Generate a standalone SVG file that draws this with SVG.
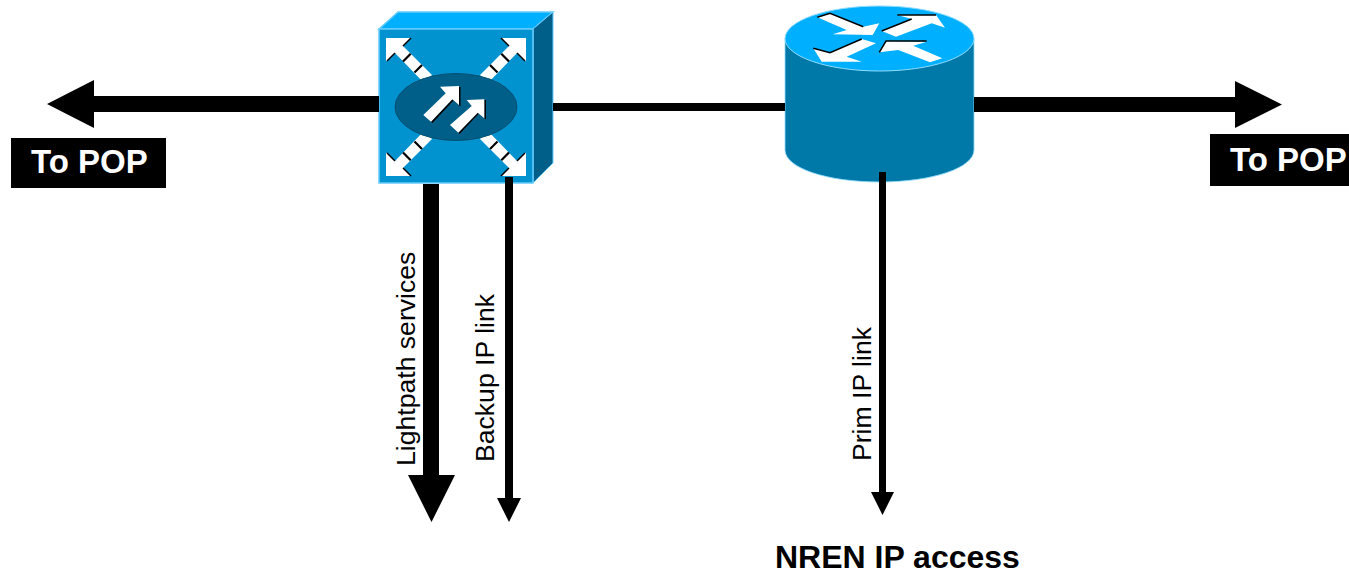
<svg xmlns="http://www.w3.org/2000/svg" width="1349" height="571" viewBox="0 0 1349 571">
<style>
text{font-family:"Liberation Sans",Arial,sans-serif;fill:#000}
.pop{font-size:33px;font-weight:700;fill:#fff}
.v{font-size:26.600px}
.nren{font-size:32px;font-weight:700}
.w{fill:#fff}
.k{fill:#000}
.s{fill:none;stroke:#000;stroke-width:1.500}
.g{fill:none;stroke:#000;stroke-width:2.200}
</style>
<defs>
<g id="head">
<polygon class="w" points="0,0 25,0 17,8 46,37 38,45 9,15 1,23 0,23"/>
<path class="s" d="M1 23L9 15M17 8L25 0"/>
<path class="g" d="M17 23.500L24.700 15.700M28.500 34.500L36 27"/>
</g>
</defs>
<g id="switch">
<polygon points="379,29 398,12 553,12 533,29" fill="#00b0ff" stroke="#66ccff" stroke-width="1.500"/>
<polygon points="533,29 553,12 553,163 533,183" fill="#005f88" stroke="#66ccff" stroke-width="1"/>
<rect x="379" y="29" width="154" height="154" fill="#0093d0" stroke="#66ccff" stroke-width="1.500"/>
<use href="#head" transform="translate(386,38)"/>
<use href="#head" transform="translate(526,38) scale(-1,1)"/>
<use href="#head" transform="translate(386,176) scale(1,-1)"/>
<use href="#head" transform="translate(526,176) scale(-1,-1)"/>
<ellipse cx="456" cy="107" rx="61" ry="33.500" fill="#005f88" stroke="#004f72"/>
<polygon class="k" points="459,87 460.500,87 460.500,106.500 453.500,100.500 432.500,123 424.500,116.500 431,121.700 452.300,99.300 459,105"/>
<polygon class="k" points="484.300,100 486,100 486,119.500 479,113.500 459.500,134 451.500,126.500 458.300,132.700 477.700,112.700 484.300,118.300"/>
<polygon class="w" points="440,86.700 459,86 459,105 452.300,99.300 431,121.700 423.300,115 445.700,93.300"/>
<polygon class="w" points="466.700,100 484.300,99.300 484.300,118.300 477.700,112.700 458.300,132.700 450,125 471.700,106"/>
</g>
<g id="router">
<path d="M785 38.500V150C785 168 827 182 879.500 182S974 168 974 150V38.500Z" fill="#0079a8" stroke="#8fdcff" stroke-width=".8"/>
<ellipse cx="879.500" cy="38.500" rx="94.500" ry="32.500" fill="#00b0ff" stroke="#8fdcff" stroke-width="1"/>
<polygon class="w" points="817.300,17.300 830,13.300 863.300,26.700 879.300,23.300 872.700,35 832.700,34.300 846.700,30"/>
<polygon class="w" points="881.700,31 911.700,19 897.300,15 936,15 945,27.700 931.700,23.300 896,36.700"/>
<polygon class="w" points="813.300,48.300 830,52.700 861.700,39 876,43.300 846.700,56.700 861.700,61.700 821.700,61.700"/>
<polygon class="w" points="879.300,52.300 886,41 926.700,41.700 913.300,45.700 942.300,58.300 930,62.300 898.300,50"/>
<path class="s" d="M817.300 17.300L830 13.300 863.300 26.700M881.700 31L911.700 19M897.300 15H936M813.300 48.300L830 52.700 861.700 39M879.300 52.300L886 41H926.700"/>
</g>
<g id="connectors">
<path class="k" d="M379 96H94V80L47 104 94 128V112H379Z"/>
<path class="k" d="M974 97H1235V81L1282 104.500 1235 128V112H974Z"/>
<rect class="k" x="553" y="103" width="232" height="8"/>
<path class="k" d="M423 184H439V475H455L431.500 522 408 475H423Z"/>
<path class="k" d="M505 177H513V498H521L509 522 497 498H505Z"/>
<path class="k" d="M879 172H886V492H894L882.500 515 871 492H879Z"/>
</g>
<g id="label-left"><rect class="k" x="11" y="138" width="155" height="50"/><text class="pop" x="31" y="173">To POP</text></g>
<g id="label-right"><rect class="k" x="1210" y="134" width="139" height="52"/><text class="pop" x="1230" y="171">To POP</text></g>
<g id="label-lightpath"><text class="v" transform="translate(415,466) rotate(-90)">Lightpath services</text></g>
<g id="label-backup"><text class="v" transform="translate(494,462) rotate(-90)">Backup IP link</text></g>
<g id="label-prim"><text class="v" transform="translate(871,461) rotate(-90)">Prim IP link</text></g>
<g id="label-nren"><text class="nren" x="775" y="568">NREN IP access</text></g>
</svg>
